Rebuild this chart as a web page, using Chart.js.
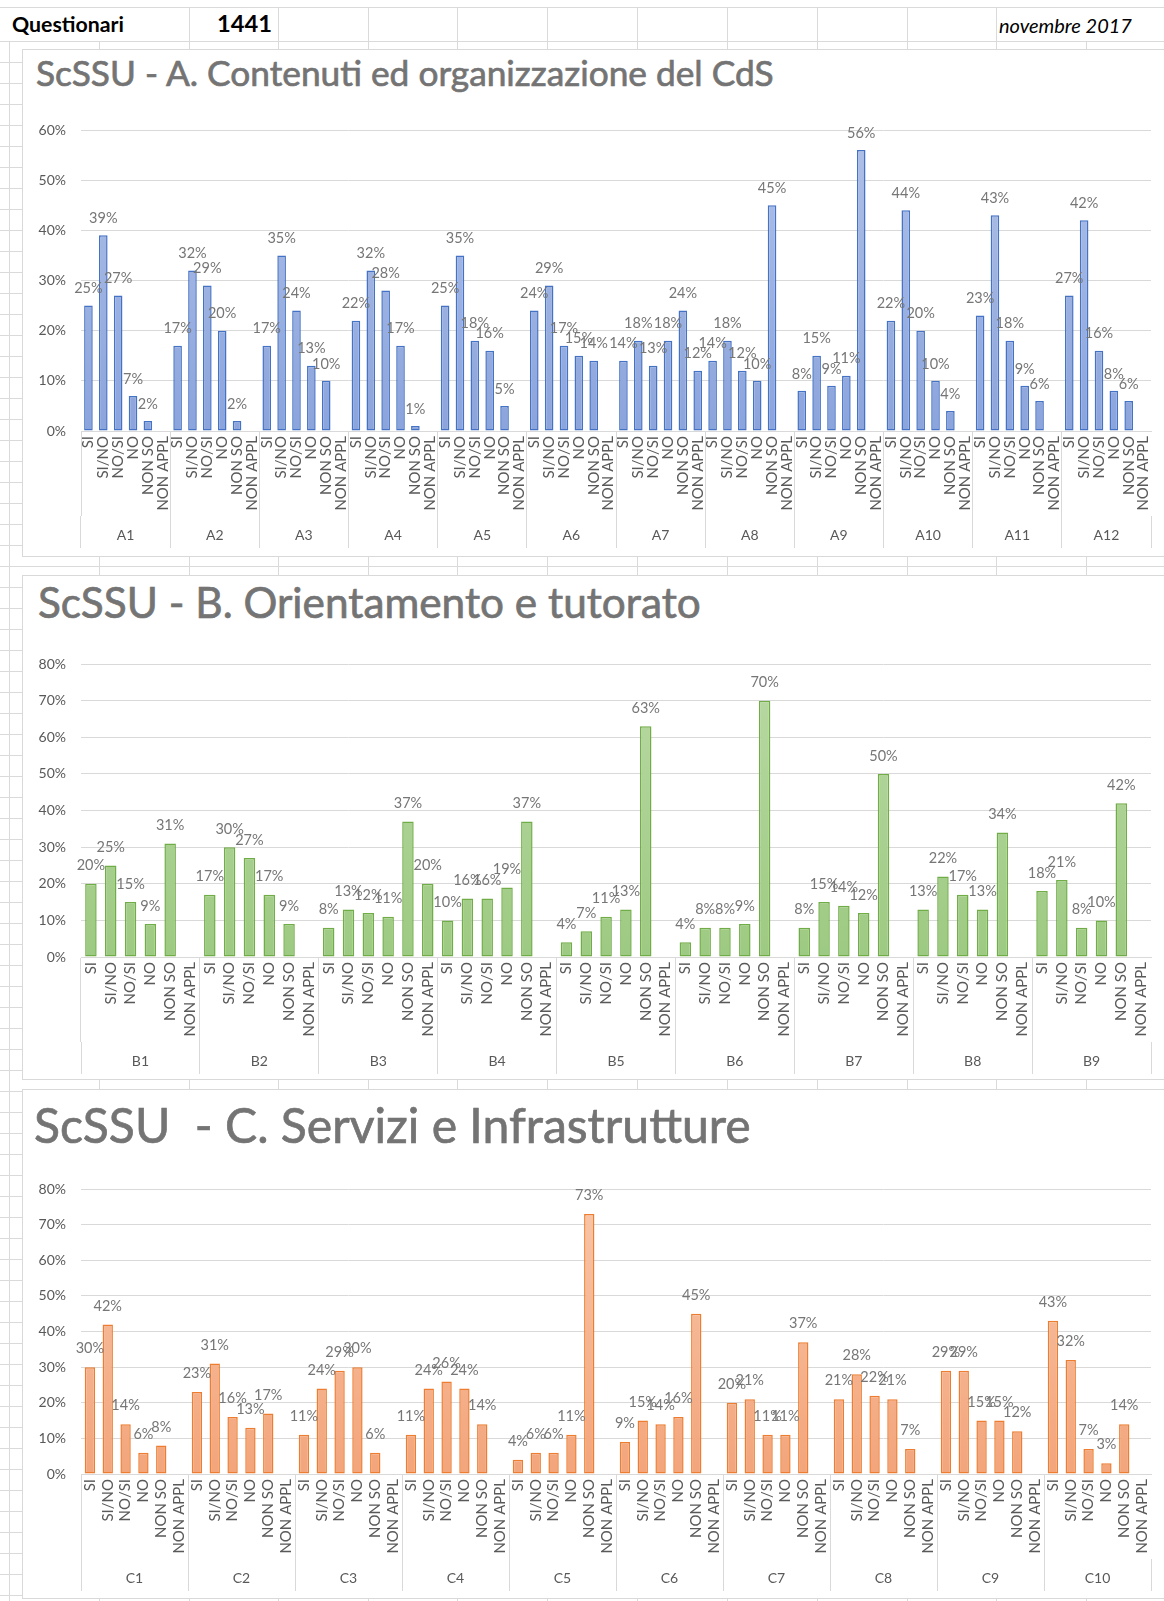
<!DOCTYPE html>
<html><head><meta charset="utf-8">
<script src="https://cdn.jsdelivr.net/npm/chart.js@4.4.0/dist/chart.umd.min.js"></script>
<style>
html,body{margin:0;padding:0;background:#fff;width:1164px;height:1601px;overflow:hidden;font-family:Lato,'Open Sans',sans-serif;}
#sheet{position:absolute;left:0;top:0;width:1164px;height:1601px;}
.vl{position:absolute;width:1px;background:#dadada;}
.hl{position:absolute;height:1px;background:#dadada;}
.box{position:absolute;background:#fff;border:1px solid #d9d9d9;box-sizing:border-box;}
.txt{position:absolute;white-space:pre;line-height:1;}
.title{color:#747474;font-family:Lato;-webkit-text-stroke:0.7px #747474;}
canvas{position:absolute;}
</style></head><body>
<div id="sheet"></div>
<span class="txt" id="tQ" style="left:12px;font-weight:bold;color:#000;font-size:20px">Questionari</span>
<span class="txt" id="tN" style="left:217px;font-weight:bold;color:#000;font-size:23px">1441</span>
<span class="txt" id="tD" style="left:999px;font-style:italic;color:#000;font-size:18px">novembre 2017</span>

<div class="box" style="left:22px;top:49px;width:1150px;height:508px"></div>
<div class="box" style="left:22px;top:575px;width:1150px;height:505px"></div>
<div class="box" style="left:22px;top:1089px;width:1150px;height:510px"></div>

<span class="txt title" id="titleA" style="left:36px;font-size:32px">ScSSU - A. Contenuti ed organizzazione del CdS</span>
<span class="txt title" id="titleB" style="left:38px;font-size:36px">ScSSU - B. Orientamento e tutorato</span>
<span class="txt title" id="titleC" style="left:34px;font-size:38px">ScSSU  - C. Servizi e Infrastrutture</span>

<canvas id="cA" width="1142" height="507" style="left:22px;top:49px"></canvas>
<canvas id="cB" width="1142" height="504" style="left:22px;top:575px"></canvas>
<canvas id="cC" width="1142" height="509" style="left:22px;top:1089px"></canvas>

<script>
// ---------------- DATA ----------------
const subCategories = ['SI','SI/NO','NO/SI','NO','NON SO','NON APPL'];

const groupsA = ['A1','A2','A3','A4','A5','A6','A7','A8','A9','A10','A11','A12'];
const valuesA = [
  25,39,27,7,2,null,
  17,32,29,20,2,null,
  17,35,24,13,10,null,
  22,32,28,17,1,null,
  25,35,18,16,5,null,
  24,29,17,15,14,null,
  14,18,13,18,24,12,
  14,18,12,10,45,null,
  8,15,9,11,56,null,
  22,44,20,10,4,null,
  23,43,18,9,6,null,
  27,42,16,8,6,null
];

const groupsB = ['B1','B2','B3','B4','B5','B6','B7','B8','B9'];
const valuesB = [
  20,25,15,9,31,null,
  17,30,27,17,9,null,
  8,13,12,11,37,20,
  10,16,16,19,37,null,
  4,7,11,13,63,null,
  4,8,8,9,70,null,
  8,15,14,12,50,null,
  13,22,17,13,34,null,
  18,21,8,10,42,null
];

const groupsC = ['C1','C2','C3','C4','C5','C6','C7','C8','C9','C10'];
const valuesC = [
  30,42,14,6,8,null,
  23,31,16,13,17,null,
  11,24,29,30,6,null,
  11,24,26,24,14,null,
  4,6,6,11,73,null,
  9,15,14,16,45,null,
  20,21,11,11,37,null,
  21,28,22,21,7,null,
  29,29,15,15,12,null,
  43,32,7,3,14,null
];

const yTicksA = {max:60, step:10};
const yTicksB = {max:80, step:10};
const yTicksC = {max:80, step:10};

// ---------------- SHEET BACKGROUND ----------------
(function(){
  const sheet = document.getElementById('sheet');
  const cols = [9,99,189,278,368,457,547,637,727,817,907,996,1086];
  const topCols = [189,278,368,457,547,637,727,817,907,996];
  function v(x,y1,y2){const d=document.createElement('div');d.className='vl';d.style.left=x+'px';d.style.top=y1+'px';d.style.height=(y2-y1)+'px';sheet.appendChild(d);}
  function h(y,x1,x2){const d=document.createElement('div');d.className='hl';d.style.top=y+'px';d.style.left=x1+'px';d.style.width=(x2-x1)+'px';sheet.appendChild(d);}
  topCols.forEach(x=>v(x,7,41));
  cols.forEach(x=>v(x,41,1601));
  h(7,0,1164); h(41,0,1164);
  for(let y=62;y<1601;y+=21) h(y,0,1164);
})();

// ---------------- TEXT FITTING ----------------
function fit(id, target, centerY){
  const el=document.getElementById(id);
  const fs=parseFloat(el.style.fontSize);
  const w=el.getBoundingClientRect().width;
  const nfs=fs*target/w;
  el.style.fontSize=nfs+'px';
  el.style.top=(centerY-0.53*nfs)+'px';
}
fit('tQ',112,25.5); fit('tN',55,25); fit('tD',133,25.5);
fit('titleA',738,73.5); fit('titleB',663,603.5); fit('titleC',717,1126);

// ---------------- CHARTS ----------------
Chart.defaults.font.family = 'Lato';

const barLabelPlugin = {
  id:'barLabels',
  afterDatasetsDraw(chart, args, opts){
    const ctx=chart.ctx; const meta=chart.getDatasetMeta(0); const data=chart.data.datasets[0].data;
    ctx.save(); ctx.font=opts.font; ctx.fillStyle=opts.color; ctx.textAlign='center'; ctx.textBaseline='middle';
    meta.data.forEach((el,i)=>{ const val=data[i]; if(val===null||val===undefined) return; ctx.fillText(val+'%', el.x, el.y-opts.offset); });
    ctx.restore();
  }
};

function expandLabels(groups){ const out=[]; groups.forEach(()=>subCategories.forEach(s=>out.push(s))); return out; }

function makeChart(id, groups, values, yt, pal, geo){
  return new Chart(document.getElementById(id), {
    type:'bar',
    data:{ labels: expandLabels(groups), datasets:[{
      data: values, borderColor: pal.border, borderWidth:1.5, borderSkipped:false,
      backgroundColor: (c)=>{ const ch=c.chart, a=ch.chartArea; if(!a) return pal.bottom; const g=ch.ctx.createLinearGradient(0,a.top,0,a.bottom); g.addColorStop(0,pal.top); g.addColorStop(1,pal.bottom); return g; },
      barPercentage:0.58, categoryPercentage:1, xAxisID:'x', yAxisID:'y'
    }]},
    options:{
      responsive:false, animation:false, devicePixelRatio:1,
      layout:{ padding:{ left:0, right:13, top:geo.padTop, bottom:geo.padBottom } },
      plugins:{ legend:{display:false}, tooltip:{enabled:false}, title:{display:false},
        barLabels:{ font:'14.5px Lato', color:'#767676', offset:geo.labelOffset } },
      scales:{
        y:{ min:0, max:yt.max, ticks:{ stepSize:yt.step, callback:v=>v+'%', color:'#595959', font:{size:14}, padding:15 },
            grid:{ color:'#d9d9d9', drawTicks:false }, border:{display:false},
            afterFit:s=>{ s.width=59; } },
        x:{ type:'category', position:'bottom', offset:true, weight:0,
            ticks:{ autoSkip:false, minRotation:90, maxRotation:90, color:'#595959', font:{size:15}, padding:-geo.xHeight+5 },
            grid:{ offset:true, drawOnChartArea:false, drawTicks:true, tickLength:geo.xHeight,
                   color:c=>(c.index%6===0)?'#d9d9d9':'rgba(0,0,0,0)' },
            border:{ display:true, color:'#d9d9d9' },
            afterFit:s=>{ s.height=geo.xHeight; } },
        x2:{ type:'category', labels:groups, position:'bottom', offset:true, weight:1,
            ticks:{ color:'#595959', font:{size:14}, padding:-geo.x2Height+geo.x2LabelPad },
            grid:{ offset:true, drawOnChartArea:false, drawTicks:true, tickLength:geo.x2Height, color:'#d9d9d9' },
            border:{display:false},
            afterFit:s=>{ s.height=geo.x2Height; } }
      }
    },
    plugins:[barLabelPlugin]
  });
}

const blue  = {border:'#4472c4', top:'#b0c1e8', bottom:'#8ba4dc'};
const green = {border:'#70ad47', top:'#b9d9a4', bottom:'#9dca82'};
const orange= {border:'#ed7d31', top:'#f8c6aa', bottom:'#f3a57b'};

makeChart('cA', groupsA, valuesA, yTicksA, blue,   {padTop:81,  padBottom:8, xHeight:85, x2Height:32, x2LabelPad:11, labelOffset:17});
makeChart('cB', groupsB, valuesB, yTicksB, green,  {padTop:89,  padBottom:5, xHeight:85, x2Height:32, x2LabelPad:11, labelOffset:18});
makeChart('cC', groupsC, valuesC, yTicksC, orange, {padTop:100, padBottom:7, xHeight:85, x2Height:32, x2LabelPad:11, labelOffset:18.5});
</script>
</body></html>
